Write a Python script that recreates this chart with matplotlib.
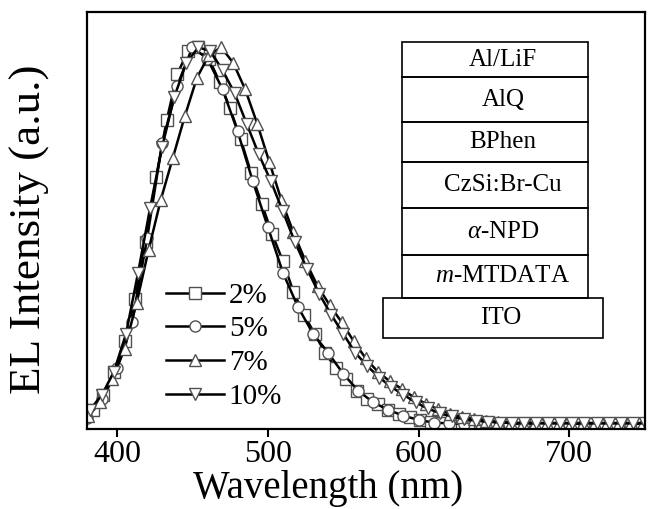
import numpy as np
import matplotlib.pyplot as plt
from matplotlib.patches import Rectangle

plt.rcParams['font.family'] = ['Liberation Serif', 'DejaVu Serif']
plt.rcParams['mathtext.fontset'] = 'custom'
plt.rcParams['mathtext.it'] = 'Liberation Serif:italic'
plt.rcParams['mathtext.rm'] = 'Liberation Serif'

# 2 % doping (squares)
wl_2 = [384, 391, 398, 405, 412, 419, 426, 433, 440, 447, 454, 461, 468, 475,
        482, 489, 496, 503, 510, 517, 524, 531, 538, 545, 552, 559, 566, 573,
        580, 587, 594, 601, 608, 615, 622, 629, 636, 643, 650, 657, 664, 671,
        678, 685, 692, 699, 706, 713, 720, 727, 734, 741, 748]
el_2 = [0.05, 0.09, 0.15, 0.23, 0.34, 0.49, 0.66, 0.81, 0.93, 0.99, 1.0, 0.97,
        0.91, 0.84, 0.76, 0.67, 0.59, 0.51, 0.44, 0.36, 0.30, 0.25, 0.20, 0.16,
        0.13, 0.10, 0.08, 0.065, 0.05, 0.04, 0.031, 0.024, 0.019, 0.016,
        0.015, 0.014, 0.014, 0.014, 0.014, 0.014, 0.014, 0.014, 0.014, 0.014,
        0.014, 0.014, 0.014, 0.014, 0.014, 0.014, 0.014, 0.014, 0.014]

# 5 % doping (circles)
wl_5 = [380, 390, 400, 410, 420, 430, 440, 450, 460, 470, 480, 490, 500, 510,
        520, 530, 540, 550, 560, 570, 580, 590, 600, 610, 620, 630, 640, 650,
        660, 670, 680, 690, 700, 710, 720, 730, 740, 750]
el_5 = [0.03, 0.08, 0.16, 0.28, 0.50, 0.75, 0.90, 1.0, 0.97, 0.89, 0.78, 0.65,
        0.53, 0.41, 0.32, 0.25, 0.20, 0.145, 0.10, 0.07, 0.05, 0.035, 0.024,
        0.017, 0.015, 0.014, 0.014, 0.014, 0.014, 0.014, 0.014, 0.014, 0.014,
        0.014, 0.014, 0.014, 0.014, 0.014]

# 7 % doping (up triangles)
wl_7 = [381, 389, 397, 405, 413, 421, 429, 437, 445, 453, 461, 469, 477, 485,
        493, 501, 509, 517, 525, 533, 541, 549, 557, 565, 573, 581, 589, 597,
        605, 613, 621, 629, 637, 645, 653, 661, 669, 677, 685, 693, 701, 709,
        717, 725, 733, 741, 749]
el_7 = [0.035, 0.07, 0.13, 0.21, 0.33, 0.47, 0.60, 0.71, 0.82, 0.92, 0.98, 1.0,
        0.96, 0.89, 0.80, 0.70, 0.60, 0.515, 0.44, 0.375, 0.325, 0.28, 0.23,
        0.185, 0.15, 0.125, 0.105, 0.083, 0.066, 0.052, 0.04, 0.032, 0.026,
        0.022, 0.019, 0.017, 0.016, 0.016, 0.016, 0.016, 0.016, 0.016, 0.016,
        0.016, 0.016, 0.016, 0.016]

# 10 % doping (down triangles)
wl_10 = [382, 390, 398, 406, 414, 422, 430, 438, 446, 454, 462, 470, 478, 486,
         494, 502, 510, 518, 526, 534, 542, 550, 558, 566, 574, 582, 590, 598,
         606, 614, 622, 630, 638, 646, 654, 662, 670, 678, 686, 694, 702, 710,
         718, 726, 734, 742, 750]
el_10 = [0.05, 0.09, 0.15, 0.25, 0.41, 0.58, 0.74, 0.87, 0.96, 1.0, 0.99, 0.94,
         0.88, 0.80, 0.72, 0.65, 0.57, 0.49, 0.42, 0.355, 0.30, 0.25, 0.20,
         0.165, 0.135, 0.11, 0.09, 0.07, 0.054, 0.042, 0.033, 0.026, 0.022,
         0.019, 0.017, 0.016, 0.015, 0.015, 0.015, 0.015, 0.015, 0.015, 0.015,
         0.015, 0.015, 0.015, 0.015]

labels = ['2%', '5%', '7%', '10%']
markers = ['s', 'o', '^', 'v']
layers = ['Al/LiF', 'AlQ', 'BPhen', 'CzSi:Br-Cu', r'$\alpha$-NPD',
          r'$m$-MTDATA']

fig = plt.figure(figsize=(6.48, 5.09), dpi=100)
ax = fig.add_axes([0.134, 0.157, 0.861, 0.819])

series = [(wl_2, el_2), (wl_5, el_5), (wl_7, el_7), (wl_10, el_10)]
for (x, y), lab, m in zip(series, labels, markers):
    ax.plot(x, y, '-', color='k', lw=1.8, marker=m, ms=8, mfc='white',
            mec='#505050', mew=1.0, label=lab)

ax.set_xlim(380, 750)
ax.set_ylim(0, 1.092)
ax.set_xticks([400, 500, 600, 700])
ax.set_yticks([])
ax.tick_params(axis='x', direction='out', length=6, width=1.5,
               labelsize=23, pad=2)
for s in ax.spines.values():
    s.set_linewidth(1.6)

ax.set_xlabel('Wavelength (nm)', fontsize=28)
ax.xaxis.set_label_coords(0.432, -0.098)
ax.set_ylabel('EL Intensity (a.u.)', fontsize=32.5)
ax.yaxis.set_label_coords(-0.066, 0.48)

leg = ax.legend(loc='lower left', bbox_to_anchor=(0.121, 0.018),
                frameon=False, fontsize=21, handlelength=2.0,
                handletextpad=0.15, labelspacing=0.25, borderaxespad=0)

# device structure
trans = fig.transFigure
W, H = 648.0, 509.0
edges = [42, 77, 122, 162, 208, 255, 298]
x0, x1 = 402, 588
for i, name in enumerate(layers):
    top, bot = edges[i], edges[i + 1]
    fig.patches.append(Rectangle((x0 / W, 1 - bot / H), (x1 - x0) / W,
                                 (bot - top) / H, transform=trans,
                                 fill=False, ec='k', lw=1.2))
    fig.text((x0 + x1) / 2 / W + 0.012, 1 - (top + bot) / 2 / H, name,
             ha='center', va='center', fontsize=18)
fig.patches.append(Rectangle((383 / W, 1 - 338 / H), 220 / W, 40 / H,
                             transform=trans, fill=False, ec='k', lw=1.2))
fig.text(501 / W, 1 - 318 / H, 'ITO', ha='center', va='center',
         fontsize=18)

fig.savefig('out.png', dpi=100)
